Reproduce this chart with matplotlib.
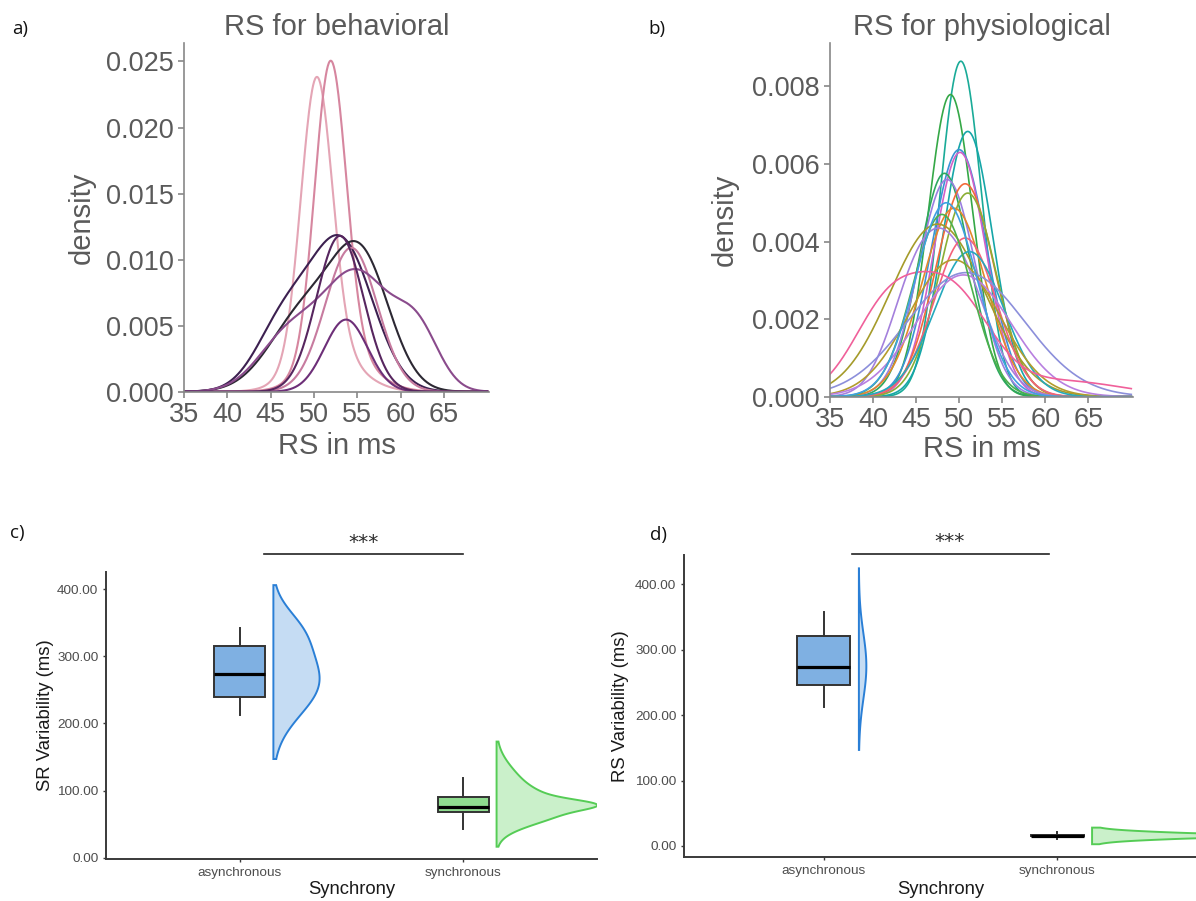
import numpy as np
import matplotlib
matplotlib.use("Agg")
import matplotlib.pyplot as plt

plt.rcParams['font.family'] = ['Liberation Sans', 'DejaVu Sans']

# --- a) RS for behavioral: density bumps (peak, centre, sd), each tied to a curve
beh_curve = [0, 0, 1, 1, 2, 2, 3, 3, 4, 5, 5, 5, 6, 7]
beh_peak = [0.0210, 0.0030, 0.0222, 0.0030, 0.0112, 0.0050, 0.0095, 0.0060, 0.0109,
            0.0089, 0.0040, 0.0040, 0.00546, 0.0118]
beh_mu = [50.3, 51.5, 51.9, 53.0, 53.2, 46.5, 55.5, 49.0, 54.3, 55.0, 47.0, 62.0, 53.7, 53.0]
beh_sd = [1.8, 3.5, 1.8, 3.5, 3.6, 3.2, 3.3, 4.0, 3.0, 4.0, 3.5, 2.5, 2.5, 2.7]
beh_colors = ['#e4a5b5', '#d6869f', '#3c2050', '#2c2833', '#c77b9f', '#8a4b8c', '#6d2f78', '#57265f']

# --- b) RS for physiological
phys_curve = [0, 1, 2, 3, 4, 5, 6, 7, 8, 9, 10, 11, 11, 12, 13, 14, 15, 16, 17, 17, 17, 18, 19]
phys_peak = [0.00865, 0.00779, 0.00684, 0.00637, 0.0063, 0.00576, 0.0056, 0.00549, 0.00525, 0.00486,
             0.00445, 0.0036, 0.0018, 0.00409, 0.00374, 0.00353, 0.0032, 0.00314,
             0.0026, 0.0021, 0.0004, 0.0047, 0.0050]
phys_mu = [50.2, 49.0, 51.0, 50.0, 50.1, 48.3, 48.6, 50.7, 51.0, 49.4,
           47.5, 49.2, 44.5, 50.7, 51.2, 49.4, 50.8, 50.5,
           49.0, 41.5, 62.0, 48.0, 48.5]
phys_sd = [2.4, 2.6, 2.9, 3.2, 3.0, 3.0, 3.3, 3.4, 3.3, 3.7,
           5.5, 3.8, 3.0, 3.6, 4.0, 5.2, 6.8, 5.5,
           4.5, 4.0, 7.0, 3.4, 3.6]
phys_colors = ['#1aab98', '#35a847', '#16a6a8', '#3b92d6', '#d061c8', '#2ea85f', '#9a7fe0',
               '#f26b3a', '#8aae34', '#e2892a', '#a59b2a', '#a480dc', '#f3627a', '#25a9bd',
               '#b39c2c', '#8c8fdb', '#b87fe0', '#f0609a', '#4cb04c', '#3fa0e2']

# --- c) / d) variability by synchrony
groups = ['asynchronous', 'synchronous']
# whisker low, q1, median, q3, whisker high
sr_box = [[212.7, 240.0, 273.3, 315.5, 342.0], [42.3, 68.6, 75.1, 90.0, 119.2]]
rs_box = [[213.0, 246.2, 274.2, 321.6, 357.3], [10.0, 14.5, 15.5, 16.5, 21.0]]
# violin extent (min, max)
sr_range = [[147.0, 406.0], [16.4, 173.0]]
rs_range = [[146.8, 424.6], [2.6, 28.0]]
# violin density bumps: group, peak, centre, sd
sr_vio_group = [0, 0, 1, 1, 1]
sr_vio_peak = [1.0, 0.4, 0.4, 0.7, 0.3]
sr_vio_mu = [262, 340, 79, 70, 105]
sr_vio_sd = [49, 32, 7, 20, 30]
rs_vio_group = [0, 1, 1, 1]
rs_vio_peak = [1.0, 0.5, 0.35, 0.15]
rs_vio_mu = [275, 15.5, 15.5, 15.5]
rs_vio_sd = [50, 1.5, 4.5, 6.5]


def bumps(x, ids, k, peaks, mus, sds):
    y = np.zeros_like(x)
    for c, p, m, s in zip(ids, peaks, mus, sds):
        if c == k:
            y += p * np.exp(-0.5 * ((x - m) / s) ** 2)
    return y


def density_panel(ax, ids, peaks, mus, sds, colors, ytop, yticks, title, lw):
    xs = np.linspace(35, 70, 600)
    for k, col in enumerate(colors):
        ax.plot(xs, bumps(xs, ids, k, peaks, mus, sds), color=col, lw=lw)
    ax.set_xlim(35, 70.2)
    ax.set_ylim(0, ytop)
    ax.set_xticks([35, 40, 45, 50, 55, 60, 65])
    ax.set_yticks(yticks)
    ax.set_yticklabels(['%.3f' % t for t in yticks])
    for s in ['top', 'right']:
        ax.spines[s].set_visible(False)
    for s in ['left', 'bottom']:
        ax.spines[s].set_color('#888888')
        ax.spines[s].set_linewidth(1.2)
    ax.tick_params(colors='#888888', labelcolor='#5a5a5a', labelsize=19.5, length=4.5, width=1.2, pad=3)
    ax.set_title(title, fontsize=21, color='#5a5a5a', pad=6)
    ax.set_xlabel('RS in ms', fontsize=21, color='#5a5a5a')
    ax.set_ylabel('density', fontsize=21, color='#5a5a5a')


def rain_panel(ax, box, rng, vg, vp, vm, vs, vwidth, ylim, ylab):
    fills = ['#7fb0e2', '#8fdc8f']
    vfill = ['#c5dcf3', '#caf0ca']
    vedge = ['#2a7fd6', '#55cc55']
    for g in range(2):
        lo, hi = rng[g]
        v = np.linspace(lo, hi, 400)
        d = bumps(v, vg, g, vp, vm, vs)
        w = d / d.max() * vwidth[g]
        x0 = g + 0.15
        ax.fill(np.r_[x0, x0 + w, x0], np.r_[lo, v, hi], facecolor=vfill[g],
                edgecolor=vedge[g], lw=1.4, zorder=2)
    stats = [dict(whislo=b[0], q1=b[1], med=b[2], q3=b[3], whishi=b[4], label=g)
             for b, g in zip(box, groups)]
    bp = ax.bxp(stats, positions=[0, 1], widths=0.228, showfliers=False, showcaps=False,
                patch_artist=True,
                boxprops=dict(edgecolor='#333333', linewidth=1.4),
                whiskerprops=dict(color='#333333', linewidth=1.4),
                medianprops=dict(color='black', linewidth=2.3))
    for patch, col in zip(bp['boxes'], fills):
        patch.set_facecolor(col)
    ax.set_xlim(-0.6, 1.6)
    ax.set_ylim(*ylim)
    ax.set_xticks([0, 1])
    ax.set_xticklabels(groups)
    ax.set_yticks([0, 100, 200, 300, 400])
    ax.set_yticklabels(['%.2f' % t for t in [0, 100, 200, 300, 400]])
    for s in ['top', 'right']:
        ax.spines[s].set_visible(False)
    for s in ['left', 'bottom']:
        ax.spines[s].set_color('#3a3a3a')
        ax.spines[s].set_linewidth(1.4)
    ax.tick_params(colors='#3a3a3a', labelcolor='#4d4d4d', labelsize=9.7, length=2.5, width=1.0, pad=3)
    ax.set_xlabel('Synchrony', fontsize=13.3, color='#1a1a1a')
    ax.set_ylabel(ylab, fontsize=13.3, color='#1a1a1a')


fig = plt.figure(figsize=(11.96, 9.01), dpi=100)
W, H = 1196.0, 901.0


def add_axes(l, r, t, b):
    return fig.add_axes([l / W, 1 - b / H, (r - l) / W, (b - t) / H])


ax_a = add_axes(184, 489, 43, 391.7)
density_panel(ax_a, beh_curve, beh_peak, beh_mu, beh_sd, beh_colors, 0.0264,
              [0, 0.005, 0.010, 0.015, 0.020, 0.025], 'RS for behavioral', 1.5)
ax_a.yaxis.set_label_coords(-0.289, 0.5)
ax_a.xaxis.set_label_coords(0.5, -0.115)

ax_b = add_axes(830, 1133, 43, 396.7)
density_panel(ax_b, phys_curve, phys_peak, phys_mu, phys_sd, phys_colors, 0.00912,
              [0, 0.002, 0.004, 0.006, 0.008], 'RS for physiological', 1.2)
ax_b.yaxis.set_label_coords(-0.300, 0.5)
ax_b.xaxis.set_label_coords(0.5, -0.108)

ax_c = add_axes(106, 597, 571.7, 859)
rain_panel(ax_c, sr_box, sr_range, sr_vio_group, sr_vio_peak, sr_vio_mu, sr_vio_sd,
           [0.207, 0.452], (-1.9, 426), 'SR Variability (ms)')
ax_c.yaxis.set_label_coords(-0.106, 0.5)
ax_c.xaxis.set_label_coords(0.5, -0.077)
ax_c.plot([0.11, 1.0], [453, 453], color='#222222', lw=1.2, clip_on=False)
ax_c.text(0.556, 470, '***', ha='center', va='center', fontsize=14.5, color='#2a2a2a',
          family='DejaVu Sans', clip_on=False)

ax_d = add_axes(684, 1197, 555, 857.3)
rain_panel(ax_d, rs_box, rs_range, rs_vio_group, rs_vio_peak, rs_vio_mu, rs_vio_sd,
           [0.032, 1.16], (-17.4, 445), 'RS Variability (ms)')
ax_d.yaxis.set_label_coords(-0.107, 0.5)
ax_d.xaxis.set_label_coords(0.5, -0.078)
ax_d.plot([0.12, 0.965], [447, 447], color='#222222', lw=1.2, clip_on=False)
ax_d.text(0.54, 466, '***', ha='center', va='center', fontsize=14.5, color='#2a2a2a',
          family='DejaVu Sans', clip_on=False)

for lab, x, y in [('a)', 12, 29), ('b)', 648, 29), ('c)', 10, 533), ('d)', 650, 535)]:
    fig.text(x / W, 1 - y / H, lab, fontsize=13.5, va='center', ha='left',
             family=['Open Sans', 'DejaVu Sans'], color='#111111')

fig.savefig('out.png', dpi=100)
